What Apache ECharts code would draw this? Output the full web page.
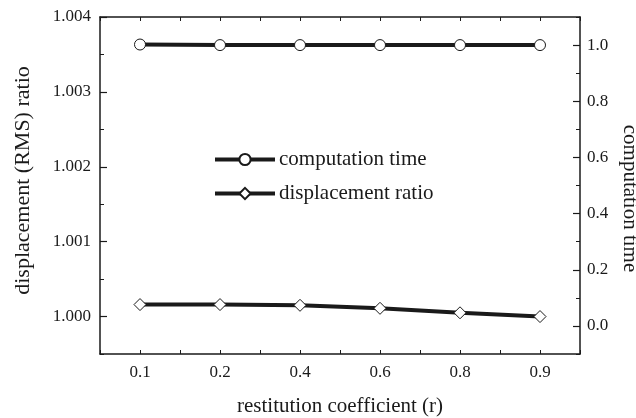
<!DOCTYPE html>
<html>
<head>
<meta charset="utf-8">
<script src="https://cdn.jsdelivr.net/npm/echarts@6/dist/echarts.min.js"></script>
<style>
  html, body { margin: 0; padding: 0; background: #fff; }
  #chart { width: 636px; height: 418px; }
</style>
</head>
<body>
<div id="chart"></div>
<script>
const categories = ['0.1', '0.2', '0.4', '0.6', '0.8', '0.9']
const computationTime = [1.002, 1.0, 1.0, 1.0, 1.0, 1.0]
const displacementRatio = [1.00016, 1.00016, 1.00015, 1.00011, 1.00005, 1.0]
const leftTicks = [1.000, 1.001, 1.002, 1.003, 1.004]
const rightTicks = [0.0, 0.2, 0.4, 0.6, 0.8, 1.0]

const font = 'Liberation Serif'
const ink = '#1a1a1a'
const axisLine = { show: true, onZero: false, lineStyle: { color: ink, width: 1.5 } }
const noLine = { show: false, onZero: false }

const chart = echarts.init(document.getElementById('chart'))

const option = {
  backgroundColor: '#fff',
  animation: false,
  textStyle: { fontFamily: font, color: ink },
  grid: { left: 100, right: 56, top: 17, bottom: 64, outerBoundsMode: 'none', containLabel: false },
  legend: {
    orient: 'vertical',
    left: 208,
    top: 144,
    itemWidth: 60,
    itemHeight: 14,
    itemGap: 13,
    lineStyle: { width: 4 },
    textStyle: { fontFamily: font, fontSize: 21, color: ink, padding: [0, 0, 0, -1] },
    data: ['computation time', 'displacement ratio']
  },
  xAxis: [
    {
      type: 'category',
      data: categories,
      position: 'bottom',
      boundaryGap: true,
      name: 'restitution coefficient (r)',
      nameLocation: 'middle',
      nameGap: 42,
      nameTextStyle: { fontFamily: font, fontSize: 21, color: ink },
      axisLine: axisLine,
      axisTick: { alignWithLabel: true, inside: true, length: 7, lineStyle: { color: ink, width: 1.2 } },
      axisLabel: { fontFamily: font, fontSize: 17, color: ink, margin: 10 },
      splitLine: { show: false }
    },
    {
      // minor ticks along the bottom
      type: 'value', position: 'bottom', min: 0, max: 12, interval: 1,
      axisLine: noLine,
      axisTick: { inside: true, length: 4, lineStyle: { color: ink, width: 1 } },
      axisLabel: { show: false },
      splitLine: { show: false }
    },
    {
      // ticks along the top border
      type: 'value', position: 'top', min: 0, max: 12, interval: 1,
      axisLine: axisLine,
      axisTick: { inside: true, length: 4, lineStyle: { color: ink, width: 1 } },
      axisLabel: { show: false },
      splitLine: { show: false }
    }
  ],
  yAxis: [
    {
      type: 'value',
      position: 'left',
      min: 0.9995,
      max: 1.004,
      name: 'displacement (RMS) ratio',
      nameLocation: 'middle',
      nameGap: 66,
      nameTextStyle: { fontFamily: font, fontSize: 22, color: ink, padding: [0, 0, 0, 10] },
      axisLine: axisLine,
      axisTick: { inside: true, length: 7, customValues: leftTicks, lineStyle: { color: ink, width: 1.2 } },
      axisLabel: {
        fontFamily: font, fontSize: 17, color: ink, margin: 9,
        customValues: leftTicks,
        formatter: v => v.toFixed(3)
      },
      splitLine: { show: false }
    },
    {
      type: 'value',
      position: 'right',
      min: -0.1,
      max: 1.1,
      name: 'computation time',
      nameLocation: 'middle',
      nameGap: 37,
      nameRotate: -90,
      nameTextStyle: { fontFamily: font, fontSize: 21, color: ink, padding: [0, 0, 0, 26] },
      axisLine: axisLine,
      axisTick: { inside: true, length: 7, customValues: rightTicks, lineStyle: { color: ink, width: 1.2 } },
      axisLabel: {
        fontFamily: font, fontSize: 17, color: ink, margin: 7,
        customValues: rightTicks,
        formatter: v => v.toFixed(1)
      },
      splitLine: { show: false }
    },
    {
      // minor ticks on the left
      type: 'value', position: 'left', min: 0.9995, max: 1.004, interval: 0.0005,
      axisLine: noLine,
      axisTick: { inside: true, length: 4, lineStyle: { color: ink, width: 1 } },
      axisLabel: { show: false },
      splitLine: { show: false }
    },
    {
      // minor ticks on the right
      type: 'value', position: 'right', min: -0.1, max: 1.1, interval: 0.1,
      axisLine: noLine,
      axisTick: { inside: true, length: 4, lineStyle: { color: ink, width: 1 } },
      axisLabel: { show: false },
      splitLine: { show: false }
    }
  ],
  series: [
    {
      name: 'computation time',
      type: 'line',
      xAxisIndex: 0,
      yAxisIndex: 1,
      data: computationTime,
      symbol: 'circle',
      symbolSize: 11,
      itemStyle: { color: '#fff', borderColor: ink, borderWidth: 1 },
      lineStyle: { color: ink, width: 4 },
      z: 3
    },
    {
      name: 'displacement ratio',
      type: 'line',
      xAxisIndex: 0,
      yAxisIndex: 0,
      data: displacementRatio,
      symbol: 'diamond',
      symbolSize: 12,
      itemStyle: { color: '#fff', borderColor: ink, borderWidth: 1 },
      lineStyle: { color: ink, width: 4 },
      z: 3
    }
  ]
}

chart.setOption(option)
</script>
</body>
</html>
